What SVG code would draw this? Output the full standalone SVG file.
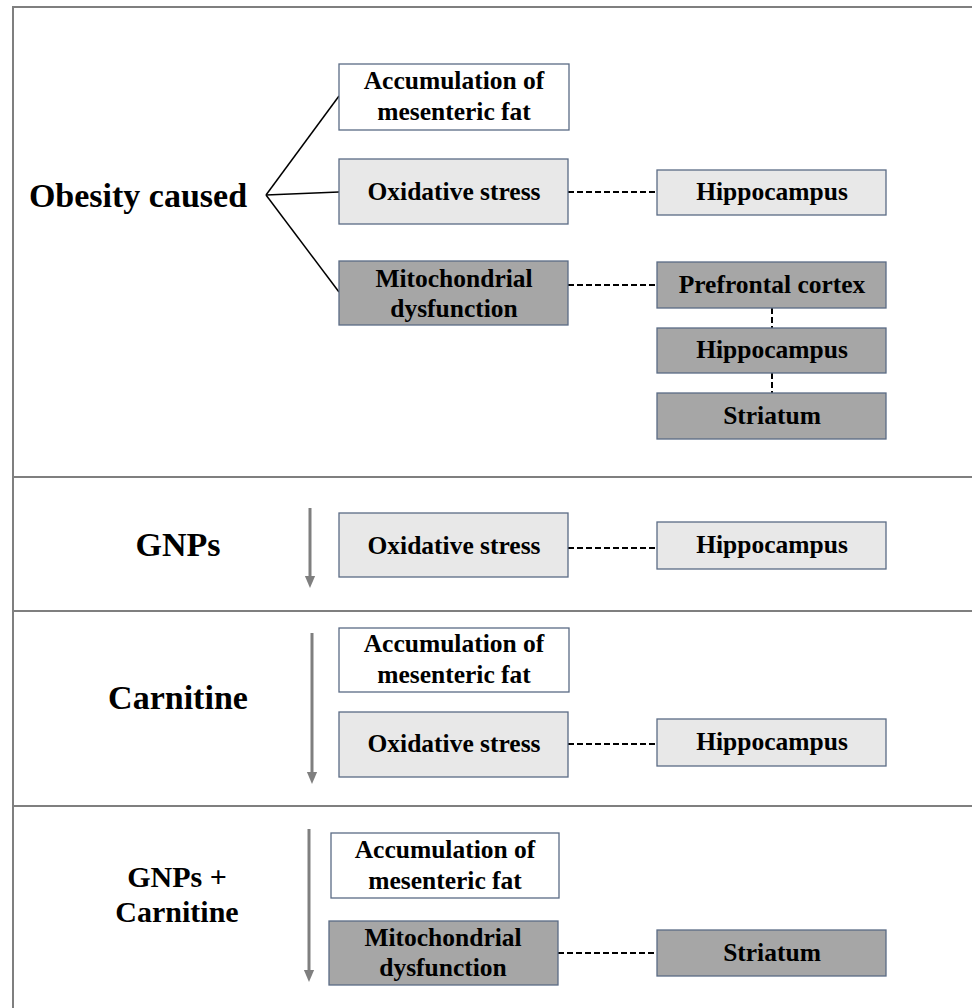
<svg xmlns="http://www.w3.org/2000/svg" width="972" height="1008" viewBox="0 0 972 1008">
<style>
.frame{stroke:#7f7f7f;stroke-width:2;fill:none}
.box{stroke:#5a6b85;stroke-width:1.3}
.white{fill:#ffffff}
.light{fill:#e8e8e8}
.dark{fill:#a6a6a6}
.t{font-family:"Liberation Serif","Times New Roman",serif;font-weight:bold;font-size:25.5px;fill:#000;text-anchor:middle}
.h{font-family:"Liberation Serif","Times New Roman",serif;font-weight:bold;font-size:34px;fill:#000;text-anchor:middle}
.h2{font-family:"Liberation Serif","Times New Roman",serif;font-weight:bold;font-size:30px;fill:#000;text-anchor:middle}
.dash{stroke:#000;stroke-width:2;stroke-dasharray:6,3;fill:none}
.solid{stroke:#000;stroke-width:1.5;fill:none}
.arr{stroke:#7f7f7f;stroke-width:3;fill:none}
</style>
<defs>
<marker id="ah" markerWidth="4" markerHeight="4" refX="2" refY="2" orient="auto" markerUnits="strokeWidth">
<path d="M0,0.3 L4,2 L0,3.7 Z" fill="#7f7f7f"/>
</marker>
</defs>
<rect width="972" height="1008" fill="#ffffff"/>
<g id="frame">
<path class="frame" d="M13,1008 V7 H972"/>
<line class="frame" x1="13" y1="477" x2="972" y2="477"/>
<line class="frame" x1="13" y1="611" x2="972" y2="611"/>
<line class="frame" x1="13" y1="806" x2="972" y2="806"/>
</g>
<g id="connectors">
<line class="solid" x1="266" y1="195" x2="339" y2="96"/>
<line class="solid" x1="266" y1="195" x2="339" y2="192"/>
<line class="solid" x1="266" y1="195" x2="339" y2="292"/>
<line class="dash" x1="568" y1="192" x2="657" y2="192"/>
<line class="dash" x1="568" y1="285" x2="657" y2="285"/>
<line class="dash" x1="772" y1="308" x2="772" y2="328"/>
<line class="dash" x1="772" y1="373" x2="772" y2="393"/>
<line class="dash" x1="568" y1="548" x2="657" y2="548"/>
<line class="dash" x1="568" y1="744" x2="657" y2="744"/>
<line class="dash" x1="558" y1="953" x2="657" y2="953"/>
<line class="arr" x1="310" y1="508" x2="310" y2="582" marker-end="url(#ah)"/>
<line class="arr" x1="312" y1="633" x2="312" y2="778" marker-end="url(#ah)"/>
<line class="arr" x1="309" y1="829" x2="309" y2="976" marker-end="url(#ah)"/>
</g>
<g id="label-obesity"><text class="h" x="138" y="207">Obesity caused</text></g>
<g id="label-gnps"><text class="h" x="178" y="556">GNPs</text></g>
<g id="label-carnitine"><text class="h" x="178" y="709">Carnitine</text></g>
<g id="label-combo"><text class="h2" x="177" y="887">GNPs +</text><text class="h2" x="177" y="922">Carnitine</text></g>
<g id="s1-accum"><rect class="box white" x="339" y="64" width="230" height="66"/><text class="t" x="454" y="89">Accumulation of</text><text class="t" x="454" y="120">mesenteric fat</text></g>
<g id="s1-oxid"><rect class="box light" x="339" y="159" width="229" height="65"/><text class="t" x="454" y="200">Oxidative stress</text></g>
<g id="s1-mito"><rect class="box dark" x="339" y="261" width="229" height="64"/><text class="t" x="454" y="287">Mitochondrial</text><text class="t" x="454" y="317">dysfunction</text></g>
<g id="s1-hippo"><rect class="box light" x="657" y="170" width="229" height="45"/><text class="t" x="772" y="200">Hippocampus</text></g>
<g id="s1-pfc"><rect class="box dark" x="657" y="262" width="229" height="46"/><text class="t" x="772" y="293">Prefrontal cortex</text></g>
<g id="s1-hippo2"><rect class="box dark" x="657" y="328" width="229" height="45"/><text class="t" x="772" y="358">Hippocampus</text></g>
<g id="s1-striatum"><rect class="box dark" x="657" y="393" width="229" height="46"/><text class="t" x="772" y="424">Striatum</text></g>
<g id="s2-oxid"><rect class="box light" x="339" y="513" width="229" height="64"/><text class="t" x="454" y="554">Oxidative stress</text></g>
<g id="s2-hippo"><rect class="box light" x="657" y="522" width="229" height="47"/><text class="t" x="772" y="553">Hippocampus</text></g>
<g id="s3-accum"><rect class="box white" x="339" y="628" width="230" height="64"/><text class="t" x="454" y="652">Accumulation of</text><text class="t" x="454" y="683">mesenteric fat</text></g>
<g id="s3-oxid"><rect class="box light" x="339" y="712" width="229" height="65"/><text class="t" x="454" y="752">Oxidative stress</text></g>
<g id="s3-hippo"><rect class="box light" x="657" y="719" width="229" height="47"/><text class="t" x="772" y="750">Hippocampus</text></g>
<g id="s4-accum"><rect class="box white" x="331" y="833" width="228" height="65"/><text class="t" x="445" y="858">Accumulation of</text><text class="t" x="445" y="889">mesenteric fat</text></g>
<g id="s4-mito"><rect class="box dark" x="329" y="921" width="229" height="64"/><text class="t" x="443" y="946">Mitochondrial</text><text class="t" x="443" y="976">dysfunction</text></g>
<g id="s4-striatum"><rect class="box dark" x="657" y="930" width="229" height="46"/><text class="t" x="772" y="961">Striatum</text></g>
</svg>
